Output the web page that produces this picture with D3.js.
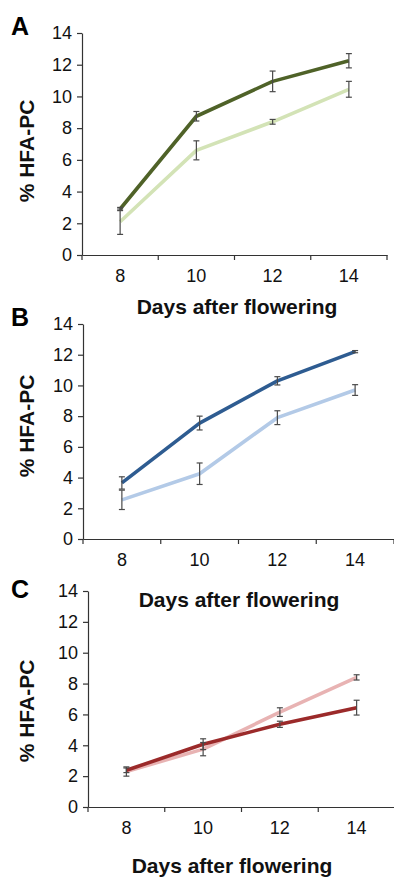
<!DOCTYPE html>
<html>
<head>
<meta charset="utf-8">
<script src="https://cdn.jsdelivr.net/npm/d3@7"></script>
<style>
  body { margin: 0; background: #fff; }
  svg { display: block; font-family: "Liberation Sans", Arial, sans-serif; }
</style>
</head>
<body>
<svg id="chart" width="394" height="878"></svg>
<script>
// categories and ticks
const days = ['8', '10', '12', '14'];
const yTicks = [0, 2, 4, 6, 8, 10, 12, 14];

// panel A (green)
const aDark = [2.9, 8.75, 10.95, 12.25];
const aDarkErr = [0.1, 0.3, 0.65, 0.45];
const aLight = [2.1, 6.6, 8.4, 10.45];
const aLightErr = [0.8, 0.6, 0.15, 0.5];

// panel B (blue)
const bDark = [3.65, 7.55, 10.3, 12.2];
const bDarkErr = [0.4, 0.45, 0.27, 0.07];
const bLight = [2.55, 4.25, 7.9, 9.7];
const bLightErr = [0.63, 0.7, 0.45, 0.35];

// panel C (red)
const cDark = [2.38, 4.07, 5.36, 6.44];
const cDarkErr = [0.15, 0.35, 0.2, 0.48];
const cLight = [2.3, 3.75, 6.15, 8.4];
const cLightErr = [0.3, 0.43, 0.28, 0.17];

const svg = d3.select('#chart');

const panels = [
  { letter: 'A', left: 82, right: 387, top: 33, bottom: 255, letterY: 35, yLabelY: 151, xLabelX: 237, xLabelY: 314,
    series: [
      { values: aLight, errs: aLightErr, color: '#d3e3b6' },
      { values: aDark, errs: aDarkErr, color: '#4f6228' }
    ] },
  { letter: 'B', left: 83, right: 394, top: 324, bottom: 539, letterY: 326, yLabelY: 426, xLabelX: 239, xLabelY: 607,
    series: [
      { values: bLight, errs: bLightErr, color: '#b3cae7' },
      { values: bDark, errs: bDarkErr, color: '#2e5c91' }
    ] },
  { letter: 'C', left: 88, right: 395, top: 591, bottom: 807, letterY: 598, yLabelY: 711, xLabelX: 232, xLabelY: 873,
    series: [
      { values: cLight, errs: cLightErr, color: '#e8b3b3' },
      { values: cDark, errs: cDarkErr, color: '#9b2a2a' }
    ] }
];

panels.forEach(drawPanel);

function drawPanel(p) {
  const x = d3.scaleBand().domain(days).range([p.left, p.right]);
  const y = d3.scaleLinear().domain([0, 14]).range([p.bottom, p.top]);
  const g = svg.append('g');

  // y axis
  const yAxis = g.append('g')
    .attr('transform', `translate(${p.left},0)`)
    .call(d3.axisLeft(y).tickValues(yTicks).tickSize(5).tickSizeOuter(0).tickPadding(5));
  yAxis.select('.domain').attr('stroke', '#333').attr('stroke-width', 1.2);
  yAxis.selectAll('.tick line').attr('stroke', '#333').attr('stroke-width', 1.2);
  yAxis.selectAll('text').attr('font-size', 18).attr('fill', '#111')
    .attr('font-family', '"Liberation Sans", Arial, sans-serif');

  // x axis: labels at category centres, tick marks at category edges
  const xAxis = g.append('g')
    .attr('transform', `translate(0,${p.bottom})`)
    .call(d3.axisBottom(x).tickSize(0).tickSizeOuter(0).tickPadding(14));
  xAxis.select('.domain').attr('stroke', '#333').attr('stroke-width', 1.2);
  xAxis.selectAll('text').attr('font-size', 18).attr('fill', '#111')
    .attr('font-family', '"Liberation Sans", Arial, sans-serif');
  const edges = days.map(d => x(d)).concat([x.range()[1]]);
  xAxis.selectAll('line.edge')
    .data(edges)
    .enter().append('line')
    .attr('class', 'edge')
    .attr('x1', d => d).attr('x2', d => d)
    .attr('y1', 0).attr('y2', 5)
    .attr('stroke', '#333').attr('stroke-width', 1.2);

  const cx = d => x(d) + x.bandwidth() / 2;
  const line = d3.line()
    .x((v, i) => cx(days[i]))
    .y(v => y(v));

  p.series.forEach(s => {
    g.append('path')
      .attr('d', line(s.values))
      .attr('fill', 'none')
      .attr('stroke', s.color)
      .attr('stroke-width', 3.6)
      .attr('stroke-linejoin', 'round');
  });

  // error bars
  p.series.forEach(s => {
    const eb = g.append('g').selectAll('g')
      .data(s.values.map((v, i) => ({ day: days[i], v: v, e: s.errs[i] })))
      .enter().append('g')
      .attr('stroke', '#4a4a4a')
      .attr('stroke-width', 1.2);
    eb.append('line')
      .attr('x1', d => cx(d.day)).attr('x2', d => cx(d.day))
      .attr('y1', d => y(d.v - d.e)).attr('y2', d => y(d.v + d.e));
    eb.append('line')
      .attr('x1', d => cx(d.day) - 3).attr('x2', d => cx(d.day) + 3)
      .attr('y1', d => y(d.v + d.e)).attr('y2', d => y(d.v + d.e));
    eb.append('line')
      .attr('x1', d => cx(d.day) - 3).attr('x2', d => cx(d.day) + 3)
      .attr('y1', d => y(d.v - d.e)).attr('y2', d => y(d.v - d.e));
  });

  // labels
  g.append('text')
    .attr('x', 11).attr('y', p.letterY)
    .attr('font-size', 25).attr('font-weight', 'bold').attr('fill', '#000')
    .text(p.letter);

  g.append('text')
    .attr('transform', `translate(34,${p.yLabelY}) rotate(-90)`)
    .attr('text-anchor', 'middle')
    .attr('font-size', 21).attr('font-weight', 'bold').attr('fill', '#111')
    .text('% HFA-PC');

  g.append('text')
    .attr('x', p.xLabelX).attr('y', p.xLabelY)
    .attr('text-anchor', 'middle')
    .attr('font-size', 21).attr('font-weight', 'bold').attr('fill', '#111')
    .text('Days after flowering');
}
</script>
</body>
</html>
